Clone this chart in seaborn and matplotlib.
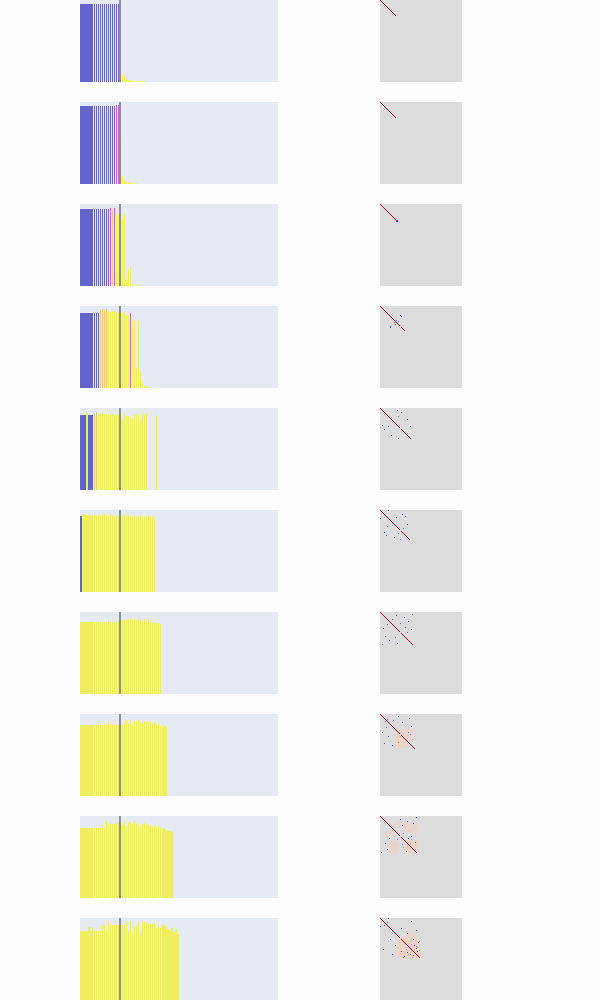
import numpy as np
import pandas as pd
import matplotlib
matplotlib.use('Agg')
import matplotlib.pyplot as plt
import seaborn as sns

N_UNITS = 100
SPLIT_AT = 19.5
FLOOR = 0.005

# bar colour codes: B blue, P purple, M magenta, O orange, Y yellow (default)
code_colors = {'B': '#4444c0', 'P': '#7040c4', 'M': '#c448c4', 'O': '#f6c060', 'Y': '#f4ee3c'}

heights_1 = [0.95] * 20 + [0.12, 0.085, 0.055, 0.04, 0.03, 0.022, 0.017, 0.013, 0.01, 0.01, 0.008, 0.008, 0.007, 0.006]
codes_1 = 'BBBBBBBBBBBBBBBBBBBP'

heights_2 = [0.95] * 18 + [0.96, 0.96, 0.52, 0.1, 0.05, 0.03, 0.02, 0.015, 0.01, 0.01, 0.008]
codes_2 = 'BBBBBBBBBBBBBBBBBPMM'

heights_3 = [0.94] * 15 + [0.95, 0.93, 0.95, 0.88, 0.86, 0.89, 0.82, 0.88, 0.09, 0.2, 0.23, 0.03, 0.015, 0.01, 0.008]
codes_3 = 'BBBBBBBBBBBBBBPMOM'

heights_4 = ([0.91] * 10 + [0.95, 0.96, 0.95, 0.96, 0.94, 0.93, 0.94, 0.94, 0.93, 0.93, 0.94, 0.92, 0.93, 0.89, 0.89,
             0.92, 0.82, 0.84, 0.24, 0.82, 0.2, 0.08, 0.03, 0.015, 0.01])
codes_4 = 'BBBBBBBBBBOOOOYYYYYYYYYYYM'

heights_5 = ([0.92, 0.92, 0.92, 0.95, 0.92, 0.92, 0.92,
              0.93, 0.95, 0.93, 0.92, 0.95, 0.93, 0.93, 0.92, 0.94, 0.93, 0.92, 0.92, 0.94, 0.93, 0.87, 0.94,
              0.9, 0.9, 0.89, 0.87, 0.93, 0.92, 0.91, 0.85, 0.93, 0.91, 0.94, 0.005, 0.005, 0.005, 0.005, 0.92])
codes_5 = 'BBBYBBBOO'

heights_6 = [0.93, 0.94, 0.95, 0.94, 0.94, 0.93, 0.95, 0.94, 0.93, 0.94, 0.93, 0.94, 0.95, 0.94, 0.93, 0.95,
             0.94, 0.92, 0.94, 0.93, 0.94, 0.93, 0.95, 0.92, 0.94, 0.93, 0.91, 0.94, 0.92, 0.93, 0.94, 0.91,
             0.93, 0.92, 0.94, 0.91, 0.93, 0.92]
codes_6 = 'B'

heights_7 = [0.88, 0.88, 0.88, 0.88, 0.88, 0.88, 0.88, 0.88, 0.88, 0.88, 0.88, 0.88, 0.88, 0.88, 0.9, 0.88,
             0.88, 0.88, 0.88, 0.9, 0.88, 0.9, 0.92, 0.9, 0.9, 0.93, 0.9, 0.91, 0.9, 0.92, 0.9, 0.88, 0.91,
             0.89, 0.9, 0.88, 0.87, 0.88, 0.86, 0.87, 0.85]
codes_7 = ''

heights_8 = [0.87, 0.87, 0.87, 0.87, 0.87, 0.87, 0.87, 0.87, 0.87, 0.87, 0.87, 0.87, 0.88, 0.87, 0.9, 0.87,
             0.88, 0.87, 0.87, 0.87, 0.9, 0.87, 0.88, 0.93, 0.88, 0.93, 0.87, 0.92, 0.9, 0.93, 0.9, 0.89,
             0.92, 0.9, 0.91, 0.89, 0.88, 0.9, 0.86, 0.88, 0.85, 0.86, 0.84, 0.85]
codes_8 = ''

heights_9 = [0.85, 0.85, 0.85, 0.85, 0.85, 0.85, 0.85, 0.85, 0.85, 0.85, 0.85, 0.89, 0.85, 0.94, 0.9, 0.92,
             0.9, 0.9, 0.92, 0.91, 0.9, 0.89, 0.94, 0.88, 0.92, 0.93, 0.9, 0.94, 0.9, 0.92, 0.88, 0.9, 0.92,
             0.89, 0.9, 0.88, 0.87, 0.89, 0.86, 0.88, 0.85, 0.84, 0.85, 0.83, 0.82, 0.82, 0.81]
codes_9 = ''

heights_10 = [0.84, 0.84, 0.84, 0.84, 0.89, 0.84, 0.89, 0.84, 0.84, 0.84, 0.84, 0.91, 0.91, 0.84, 0.95, 0.91,
              0.91, 0.91, 0.91, 0.91, 0.91, 0.91, 0.91, 0.95, 0.84, 0.96, 0.83, 0.89, 0.91, 0.95, 0.82,
              0.95, 0.95, 0.94, 0.93, 0.93, 0.93, 0.94, 0.88, 0.91, 0.88, 0.91, 0.91, 0.89, 0.87, 0.84,
              0.88, 0.83, 0.86, 0.8]
codes_10 = ''

bar_heights = [heights_1, heights_2, heights_3, heights_4, heights_5,
               heights_6, heights_7, heights_8, heights_9, heights_10]
bar_codes = [codes_1, codes_2, codes_3, codes_4, codes_5,
             codes_6, codes_7, codes_8, codes_9, codes_10]

# similarity matrices: length of the unit diagonal, faint blocks (r0, r1, c0, c1, value)
# and upper-triangle entries (row, col, value)
diag_lengths = [20, 20, 22, 30, 38, 37, 40, 43, 45, 49]
blocks_8 = [(18, 34, 22, 40, 0.1)]
blocks_9 = [(6, 14, 18, 27, 0.1), (9, 22, 30, 46, 0.1), (29, 42, 30, 46, 0.12)]
blocks_10 = [(24, 50, 24, 50, 0.12), (29, 44, 18, 24, 0.1)]
matrix_blocks = [[], [], [], [], [], [], [], blocks_8, blocks_9, blocks_10]

pairs_1 = []
pairs_2 = []
pairs_3 = [(20, 21, -0.9)]
pairs_4 = [(11, 25, -1), (12, 26, -1), (12, 24, -0.9), (18, 22, -0.9), (17, 20, -0.8)]
pairs_5 = [(3, 21, -1), (10, 22, -0.9), (14, 33, -1), (19, 31, -0.9), (22, 37, -1),
           (8, 12, -0.8), (5, 26, -0.9), (27, 36, -0.8)]
pairs_6 = [(0, 10, -1), (2, 15, -0.9), (5, 27, -1), (9, 20, -0.9), (12, 30, -1),
           (17, 33, -0.9), (22, 28, -0.8), (25, 35, -0.9), (7, 31, -0.8)]
pairs_7 = [(0, 36, -1), (2, 12, -0.9), (4, 20, -1), (6, 29, -0.9), (9, 15, -0.8), (11, 34, -1),
           (14, 25, -0.9), (18, 31, -0.8), (21, 38, -1), (24, 33, -0.9), (27, 30, 0.3), (3, 39, -0.8)]
pairs_8 = [(0, 30, -1), (1, 13, -0.9), (3, 22, -1), (5, 35, -0.9), (7, 16, -0.8), (8, 40, -1),
           (10, 27, -0.9), (13, 31, -0.8), (15, 38, -1), (19, 25, -0.9), (22, 34, -0.8), (26, 41, -1),
           (29, 36, -0.7), (31, 39, 0.3), (12, 33, 0.3), (6, 9, -0.8), (24, 37, -0.6), (20, 30, -0.5)]
pairs_9 = [(0, 19, -1), (1, 44, -1), (2, 9, -0.9), (4, 25, -1), (6, 33, -0.9), (8, 14, -0.8),
           (9, 40, -1), (11, 27, -0.9), (13, 36, -0.8), (16, 30, -1), (19, 42, -0.9), (21, 28, -0.8),
           (24, 38, -1), (27, 34, -0.9), (30, 40, -0.8), (32, 43, -1), (34, 39, 0.3), (14, 31, 0.3),
           (18, 35, 0.3), (28, 38, -0.7), (31, 41, -0.6), (33, 37, -0.6), (10, 36, -0.5)]
pairs_10 = [(0, 10, -1), (3, 19, -1), (4, 38, -1), (6, 8, -0.9), (5, 9, -0.9), (12, 26, -1),
            (2, 31, -0.9), (8, 21, -0.8), (15, 44, -0.9), (18, 33, -1), (22, 30, -0.9), (26, 40, -1),
            (29, 46, -0.9), (31, 36, -0.8), (33, 42, -1), (35, 47, -0.9), (37, 44, -0.8), (40, 45, -1),
            (28, 48, -0.7), (30, 39, 0.3), (34, 45, 0.3), (27, 43, 0.3), (38, 47, 0.3), (10, 36, -0.8),
            (32, 38, -0.6), (36, 41, -0.6), (39, 48, -0.6), (42, 47, -0.6), (34, 44, -0.5)]
matrix_pairs = [pairs_1, pairs_2, pairs_3, pairs_4, pairs_5,
                pairs_6, pairs_7, pairs_8, pairs_9, pairs_10]


def bar_frame(heights, codes):
    h = list(heights) + [FLOOR] * (N_UNITS - len(heights))
    c = [codes[i] if i < len(codes) else 'Y' for i in range(N_UNITS)]
    return pd.DataFrame({'unit': np.arange(N_UNITS), 'height': h, 'code': c})


def sim_matrix(n_diag, blocks, pairs):
    m = np.zeros((N_UNITS, N_UNITS))
    for r0, r1, c0, c1, v in blocks:
        m[r0:r1, c0:c1] = v
        m[c0:c1, r0:r1] = v
    for r, c, v in pairs:
        m[r, c] = v
        m[c, r] = v
    m[np.arange(n_diag), np.arange(n_diag)] = 1.0
    return m


fig = plt.figure(figsize=(6, 10), dpi=100)
fig.patch.set_facecolor('#fdfdfe')

for k in range(10):
    bottom = 1 - (102 * k + 82) / 1000
    ax = fig.add_axes([0.1333, bottom, 0.33, 0.082])
    ax.set_facecolor('#e5eaf5')
    df = bar_frame(bar_heights[k], bar_codes[k])
    palette = [code_colors[c] for c in df['code']]
    sns.barplot(data=df, x='unit', y='height', hue='unit', palette=palette, legend=False,
                saturation=1, width=0.65, alpha=0.8, linewidth=0, ax=ax)
    ax.axvline(SPLIT_AT, color='#6e7585', lw=1.1)
    ax.set_xlim(-0.5, N_UNITS - 0.5)
    ax.set_ylim(0, 1)
    ax.set_xlabel('')
    ax.set_ylabel('')
    ax.set_xticks([])
    ax.set_yticks([])
    for s in ax.spines.values():
        s.set_visible(False)

    ax2 = fig.add_axes([0.6333, bottom, 0.082 * 10 / 6, 0.082])
    mat = sim_matrix(diag_lengths[k], matrix_blocks[k], matrix_pairs[k])
    sns.heatmap(mat, cmap='coolwarm', vmin=-1, vmax=1, cbar=False,
                xticklabels=False, yticklabels=False, ax=ax2)
    ax2.set_xlabel('')
    ax2.set_ylabel('')

fig.savefig('out.png', dpi=100, facecolor=fig.get_facecolor())
